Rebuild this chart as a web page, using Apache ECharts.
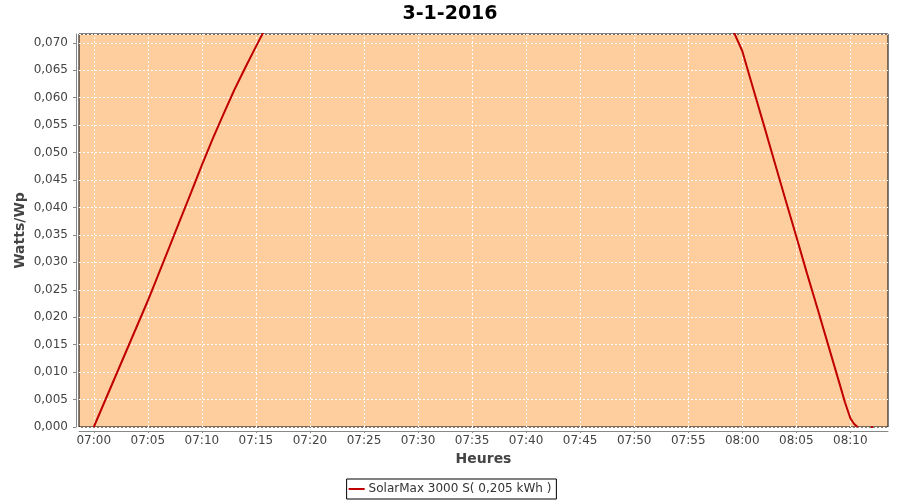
<!DOCTYPE html>
<html>
<head>
<meta charset="utf-8">
<script src="https://cdn.jsdelivr.net/npm/echarts@6/dist/echarts.min.js"></script>
<style>
html,body{margin:0;padding:0;background:#fff;}
#c{width:900px;height:500px;}
</style>
</head>
<body>
<div id="c"></div>
<script>
// ---- data ----
const chartTitle = '3-1-2016';
const seriesName = 'SolarMax 3000 S( 0,205 kWh )';
const yAxisName = 'Watts/Wp';
const xAxisName = 'Heures';
const times = [
  '07:00:00','07:01:00','07:02:00','07:03:00','07:04:00','07:05:00','07:06:00','07:07:00',
  '07:08:00','07:09:00','07:10:00','07:11:00','07:12:00','07:13:00','07:14:00','07:15:00',
  '07:16:00','07:17:00','07:30:00','07:45:00','07:58:00','07:59:00','08:00:00','08:01:00',
  '08:02:00','08:03:00','08:04:00','08:05:00','08:06:00','08:07:00','08:08:00','08:09:00',
  '08:09:30','08:10:00','08:10:20','08:10:40','08:11:20','08:12:00'
];
const values = [
  0, 0.0046, 0.0092, 0.0138, 0.0184, 0.0230, 0.0279, 0.0328,
  0.0378, 0.0427, 0.0477, 0.0525, 0.0570, 0.0614, 0.0654, 0.0693,
  0.0731, 0.0768, 0.120, 0.125, 0.0770, 0.0729, 0.0685, 0.0617,
  0.0550, 0.0482, 0.0414, 0.0347, 0.0279, 0.0213, 0.0146, 0.0079,
  0.0045, 0.0016, 0.0006, 0, null, 0
];
const isolatedIndex = 37; // single point drawn as a dot
const xTickLabels = ['07:00','07:05','07:10','07:15','07:20','07:25','07:30','07:35',
  '07:40','07:45','07:50','07:55','08:00','08:05','08:10'];
const yMin = 0, yMax = 0.0716, yStep = 0.005;
const xStart = '06:58:38', xEnd = '08:13:29';

// ---- helpers: times -> minutes after 07:00 ----
const base = 7 * 60;
function toMin(hms){
  const p = hms.split(':').map(Number);
  return p[0] * 60 + p[1] + (p[2] || 0) / 60 - base;
}
function pad(n){ return (n < 10 ? '0' : '') + n; }
function fmt(m){
  const t = Math.round(m + base);
  return pad(Math.floor(t / 60)) + ':' + pad(t % 60);
}

const tickValues = xTickLabels.map(toMin);
const seriesData = times.map((t, i) => {
  const item = { value: [toMin(t), values[i]] };
  if (i === isolatedIndex) { item.symbol = 'rect'; item.symbolSize = 2; }
  return item;
});

const labelColor = '#444';
const font = 'DejaVu Sans';
const gridLine = { color: '#ffffff', type: [2, 2], width: 1 };

const chart = echarts.init(document.getElementById('c'), null, {renderer: 'canvas'});
chart.setOption({
  animation: false,
  backgroundColor: '#ffffff',
  title: {
    text: chartTitle,
    left: 'center',
    top: 0,
    textStyle: { fontFamily: font, fontSize: 19, fontWeight: 'bold', color: '#000' }
  },
  legend: {
    data: [{ name: seriesName, icon: 'rect' }],
    bottom: 1,
    left: 'center',
    itemWidth: 16,
    itemHeight: 2,
    itemGap: 4,
    borderColor: '#000',
    borderWidth: 1,
    borderRadius: 0,
    padding: [4, 5, 4, 2],
    textStyle: { fontFamily: font, fontSize: 12, color: '#333', padding: [0, 0, 0, -1] }
  },
  grid: {
    left: 79, right: 12, top: 34, bottom: 73,
    show: true,
    backgroundColor: '#FFCE9E',
    borderColor: '#000',
    borderWidth: 1
  },
  xAxis: {
    type: 'value',
    min: toMin(xStart),
    max: toMin(xEnd),
    offset: 4,
    name: xAxisName,
    nameLocation: 'middle',
    nameGap: 20,
    nameTextStyle: { fontFamily: font, fontSize: 14, fontWeight: 'bold', color: labelColor },
    axisLine: { show: true, onZero: false, lineStyle: { color: '#888', width: 1 } },
    axisTick: { show: true, length: 2, customValues: tickValues, lineStyle: { color: '#888' } },
    axisLabel: {
      fontFamily: font, fontSize: 12, color: labelColor, margin: 4,
      customValues: tickValues,
      formatter: function (v) { return fmt(v); }
    },
    splitLine: { show: false }
  },
  yAxis: {
    type: 'value',
    min: yMin,
    max: yMax,
    interval: yStep,
    offset: 3,
    name: yAxisName,
    nameLocation: 'middle',
    nameGap: 49,
    nameMoveOverlap: false,
    nameTextStyle: { fontFamily: font, fontSize: 14, fontWeight: 'bold', color: labelColor },
    axisLine: { show: true, onZero: false, lineStyle: { color: '#888', width: 1 } },
    axisTick: { show: true, length: 3, lineStyle: { color: '#888' } },
    axisLabel: {
      fontFamily: font, fontSize: 12, color: labelColor, margin: 8,
      showMaxLabel: false,
      formatter: function (v) { return v.toFixed(3).replace('.', ','); }
    },
    splitLine: { show: true, lineStyle: gridLine }
  },
  series: [{
    name: 'vgrid',
    type: 'line',
    data: [],
    z: 1,
    silent: true,
    markLine: {
      silent: true,
      z: 1,
      symbol: 'none',
      label: { show: false },
      lineStyle: gridLine,
      data: tickValues.map(v => ({ xAxis: v }))
    }
  }, {
    name: seriesName,
    type: 'line',
    z: 3,
    data: seriesData,
    showSymbol: true,
    symbol: 'none',
    connectNulls: false,
    clip: true,
    lineStyle: { color: '#C00000', width: 2 },
    itemStyle: { color: '#C00000' }
  }]
});
</script>
</body>
</html>
